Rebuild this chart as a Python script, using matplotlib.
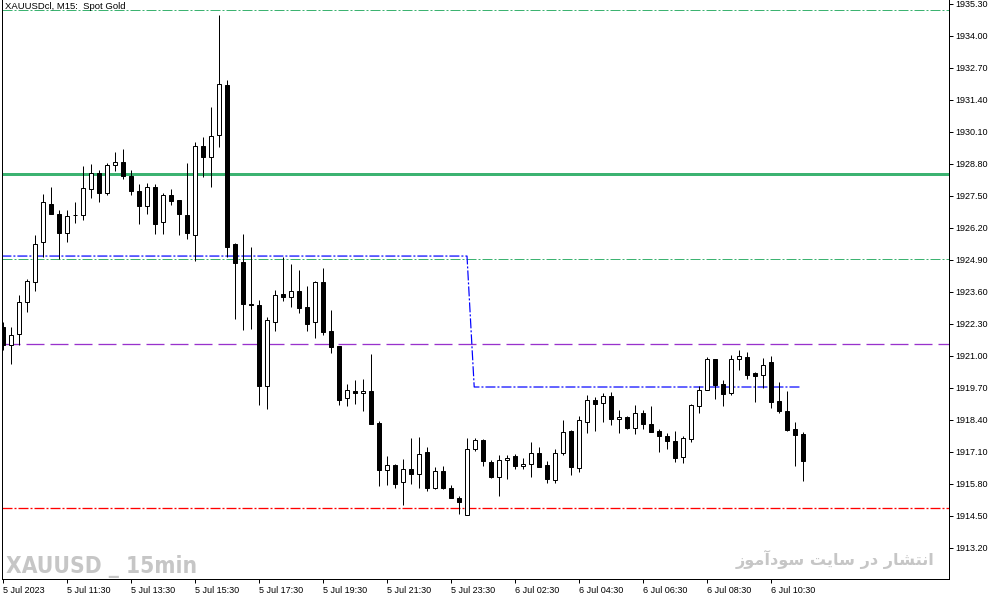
import matplotlib
matplotlib.use('Agg')
import matplotlib.pyplot as plt
from matplotlib import font_manager
import numpy as np

plt.rcParams['font.family'] = ['Liberation Sans', 'DejaVu Sans']
plt.rcParams['lines.scale_dashes'] = False

# M15 candles, 5 Jul 2023 09:30 onwards
opens = [1922.18, 1921.45, 1921.89, 1923.19, 1924.01, 1925.63, 1927.18, 1926.77, 1926.00, 1926.73,
         1926.73, 1927.78, 1928.43, 1927.62, 1928.76, 1928.88, 1928.31, 1927.70, 1927.09, 1927.87,
         1926.44, 1927.54, 1927.34, 1926.73, 1925.92, 1929.53, 1929.08, 1929.98, 1932.01, 1925.55,
         1924.82, 1923.11, 1923.07, 1919.78, 1922.38, 1923.52, 1923.40, 1923.64, 1922.99, 1922.38,
         1924.01, 1922.02, 1921.41, 1919.29, 1919.58, 1919.50, 1919.58, 1918.28, 1916.37, 1916.57,
         1915.88, 1916.41, 1916.21, 1917.10, 1915.64, 1916.33, 1915.64, 1915.23, 1914.54, 1917.22,
         1917.59, 1916.69, 1916.08, 1916.78, 1916.94, 1916.53, 1916.61, 1917.06, 1916.57, 1915.96,
         1917.06, 1917.95, 1916.45, 1918.32, 1919.21, 1919.09, 1919.38, 1918.44, 1918.52, 1918.08,
         1918.68, 1918.24, 1917.95, 1917.75, 1917.55, 1916.90, 1917.63, 1918.97, 1919.62, 1920.88,
         1919.86, 1919.50, 1920.88, 1920.96, 1920.31, 1920.23, 1920.76, 1919.17, 1918.77, 1918.03,
         1917.83]
highs = [1922.38, 1922.18, 1923.48, 1924.13, 1925.92, 1927.58, 1927.87, 1926.93, 1926.93, 1927.26,
         1928.72, 1928.80, 1928.56, 1928.84, 1929.29, 1929.41, 1928.56, 1927.99, 1928.03, 1927.99,
         1927.62, 1927.78, 1927.34, 1928.84, 1929.69, 1929.90, 1931.12, 1934.85, 1932.21, 1925.59,
         1925.96, 1925.43, 1923.28, 1922.58, 1923.68, 1925.02, 1924.74, 1924.49, 1923.84, 1924.05,
         1924.58, 1922.87, 1921.41, 1919.86, 1920.03, 1920.07, 1921.08, 1918.36, 1916.94, 1916.61,
         1916.82, 1917.67, 1917.71, 1917.30, 1916.49, 1916.53, 1915.76, 1915.31, 1917.67, 1917.67,
         1917.63, 1916.78, 1916.98, 1916.98, 1917.02, 1916.86, 1917.51, 1917.30, 1916.73, 1917.22,
         1918.40, 1917.99, 1918.56, 1919.42, 1919.33, 1919.50, 1919.54, 1918.81, 1918.56, 1919.01,
         1918.81, 1918.97, 1918.03, 1917.87, 1917.95, 1917.75, 1919.05, 1919.78, 1920.96, 1920.88,
         1920.03, 1921.04, 1921.24, 1921.16, 1920.35, 1920.92, 1921.00, 1919.94, 1919.58, 1918.32,
         1917.91]
lows = [1921.24, 1920.67, 1921.45, 1922.79, 1923.64, 1925.02, 1926.77, 1924.94, 1925.63, 1926.40,
        1926.53, 1927.42, 1927.26, 1927.54, 1928.52, 1928.19, 1927.54, 1926.36, 1926.77, 1925.96,
        1925.96, 1927.13, 1925.92, 1925.75, 1924.86, 1928.27, 1927.87, 1929.49, 1925.02, 1922.50,
        1922.06, 1922.10, 1919.01, 1918.85, 1922.02, 1923.23, 1922.99, 1922.75, 1922.02, 1921.73,
        1921.85, 1921.12, 1919.01, 1918.97, 1919.05, 1918.77, 1918.24, 1915.72, 1915.76, 1915.64,
        1914.95, 1915.80, 1915.64, 1915.52, 1915.60, 1915.60, 1915.23, 1914.58, 1914.54, 1917.14,
        1916.53, 1916.04, 1915.31, 1916.00, 1916.41, 1916.41, 1916.08, 1916.49, 1915.84, 1915.84,
        1916.98, 1916.17, 1916.29, 1917.87, 1917.95, 1918.32, 1918.20, 1917.87, 1918.03, 1917.83,
        1918.03, 1917.91, 1917.10, 1917.22, 1916.69, 1916.65, 1917.51, 1918.68, 1919.62, 1919.25,
        1918.97, 1919.42, 1920.43, 1920.07, 1919.13, 1919.70, 1918.89, 1918.68, 1917.95, 1916.53,
        1915.92]
closes = [1921.45, 1921.85, 1923.19, 1924.05, 1925.55, 1927.26, 1926.77, 1926.00, 1926.69, 1926.73,
          1927.83, 1928.43, 1927.62, 1928.76, 1928.88, 1928.31, 1927.70, 1927.09, 1927.87, 1926.36,
          1927.54, 1927.30, 1926.77, 1926.00, 1929.53, 1929.08, 1929.94, 1932.05, 1925.43, 1924.78,
          1923.11, 1923.07, 1919.78, 1922.46, 1923.48, 1923.40, 1923.64, 1922.95, 1922.30, 1924.01,
          1921.98, 1921.37, 1919.21, 1919.62, 1919.50, 1919.58, 1918.24, 1916.37, 1916.57, 1915.80,
          1916.41, 1916.21, 1917.02, 1915.64, 1916.33, 1915.64, 1915.23, 1915.07, 1917.22, 1917.59,
          1916.73, 1916.08, 1916.78, 1916.86, 1916.53, 1916.61, 1917.06, 1916.49, 1916.00, 1917.06,
          1917.91, 1916.49, 1918.40, 1919.21, 1919.05, 1919.38, 1918.44, 1918.52, 1918.08, 1918.68,
          1918.24, 1917.91, 1917.75, 1917.55, 1916.86, 1917.67, 1919.01, 1919.62, 1920.88, 1919.82,
          1919.46, 1920.88, 1921.00, 1920.23, 1920.19, 1920.63, 1919.13, 1918.77, 1917.99, 1917.79,
          1916.73]

# chart objects
level_top = 1935.06
level_green = 1928.39
level_mid = 1924.94
level_purple = 1921.49
level_red = 1914.83
blue_x = [-0.2, 58.0, 58.9, 99.6]
blue_y = [1925.06, 1925.06, 1919.74, 1919.74]

price_ticks = [1913.20, 1914.50, 1915.80, 1917.10, 1918.40, 1919.70, 1921.00, 1922.30, 1923.60,
               1924.90, 1926.20, 1927.50, 1928.80, 1930.10, 1931.40, 1932.70, 1934.00, 1935.30]
time_tick_bars = [0, 8, 16, 24, 32, 40, 48, 56, 64, 72, 80, 88, 96]
time_labels = ['5 Jul 2023', '5 Jul 11:30', '5 Jul 13:30', '5 Jul 15:30', '5 Jul 17:30',
               '5 Jul 19:30', '5 Jul 21:30', '5 Jul 23:30', '6 Jul 02:30', '6 Jul 04:30',
               '6 Jul 06:30', '6 Jul 08:30', '6 Jul 10:30']

W, H = 1003, 600
fig = plt.figure(figsize=(W / 100, H / 100), dpi=100)
ax = fig.add_axes([2 / W, 21 / H, 947 / W, 579 / H])
PX = 0.72  # one pixel in points

o = np.array(opens)
h = np.array(highs)
l = np.array(lows)
c = np.array(closes)
x = np.arange(len(o))

ax.vlines(x, l, h, color='black', lw=1.0 * PX, zorder=2)
up = c > o
face = np.where(up, 'white', 'black')
ax.bar(x, np.abs(c - o), width=0.55, bottom=np.minimum(o, c), color=face,
       edgecolor='black', linewidth=1.0 * PX, zorder=3)

dashdot = (0, (10 * PX, 2 * PX, 2 * PX, 2 * PX))
ax.axhline(level_top, color='#3cb371', lw=1 * PX, ls=dashdot, zorder=1)
ax.axhline(level_green, color='#3cb371', lw=3 * PX, zorder=1)
ax.axhline(level_mid, color='#3cb371', lw=1 * PX, ls=dashdot, zorder=1)
ax.axhline(level_purple, color='#9932cc', lw=1.3 * PX, ls=(0, (18 * PX, 6 * PX)), zorder=1)
ax.axhline(level_red, color='red', lw=1.3 * PX, ls=dashdot, zorder=1)
ax.plot(blue_x, blue_y, color='blue', lw=1.2 * PX, ls=dashdot, zorder=1)

ax.set_xlim(-0.125, 118.25)
ax.set_ylim(1911.94, 1935.4625)

ax.yaxis.tick_right()
ax.set_yticks(price_ticks)
ax.set_yticklabels(['%.2f' % p for p in price_ticks])
ax.set_xticks(time_tick_bars)
ax.set_xticklabels(time_labels, ha='left')
ax.tick_params(axis='both', direction='out', length=4 * PX, width=1 * PX, labelsize=6.5,
               colors='black')
ax.tick_params(axis='y', pad=2)
ax.tick_params(axis='x', pad=2)
ax.spines['top'].set_visible(False)
for s in ['left', 'right', 'bottom']:
    ax.spines[s].set_linewidth(1 * PX)

fig.text(5 / W, 1 - 2 / H, 'XAUUSDcl, M15:  Spot Gold', fontsize=6.8, va='top', ha='left')

# look for a narrow bold face for the big watermark
narrow = None
for f in font_manager.fontManager.ttflist:
    name = f.name.lower()
    if ('narrow' in name or 'condensed' in name or str(f.stretch) in ('condensed', 'semi-condensed')) \
            and str(f.weight) in ('bold', '700'):
        narrow = f.fname
        break
if narrow:
    wm_font = font_manager.FontProperties(fname=narrow, size=22)
else:
    wm_font = font_manager.FontProperties(family='DejaVu Sans', weight='bold', size=22)
wm = fig.text(6 / W, 1 - 573 / H, 'XAUUSD _ 15min', fontproperties=wm_font,
              color='#c6c6c6', va='baseline', ha='left')
# shrink it so it covers the same width as in the terminal (~190 px)
renderer = fig.canvas.get_renderer()
wm_w = wm.get_window_extent(renderer).width
wm.set_fontsize(22 * 190 / wm_w)

# Persian watermark, written with Arabic presentation forms in display order
fa_logical = ('\uFE8D\uFEE7\uFE98\uFEB8\uFE8E\uFEAD' + ' ' + '\uFEA9\uFEAD' + ' ' +
              '\uFEB3\uFE8E\uFBFE\uFE96' + ' ' + '\uFEB3\uFEEE\uFEA9\uFE81\uFEE3\uFEEE\uFEAF')
fig.text(934 / W, 1 - 559 / H, fa_logical[::-1], fontsize=11.6, fontweight='bold',
         family=['DejaVu Sans'], color='#c6c6c6', va='center', ha='right')

fig.savefig('out.png', dpi=100)
